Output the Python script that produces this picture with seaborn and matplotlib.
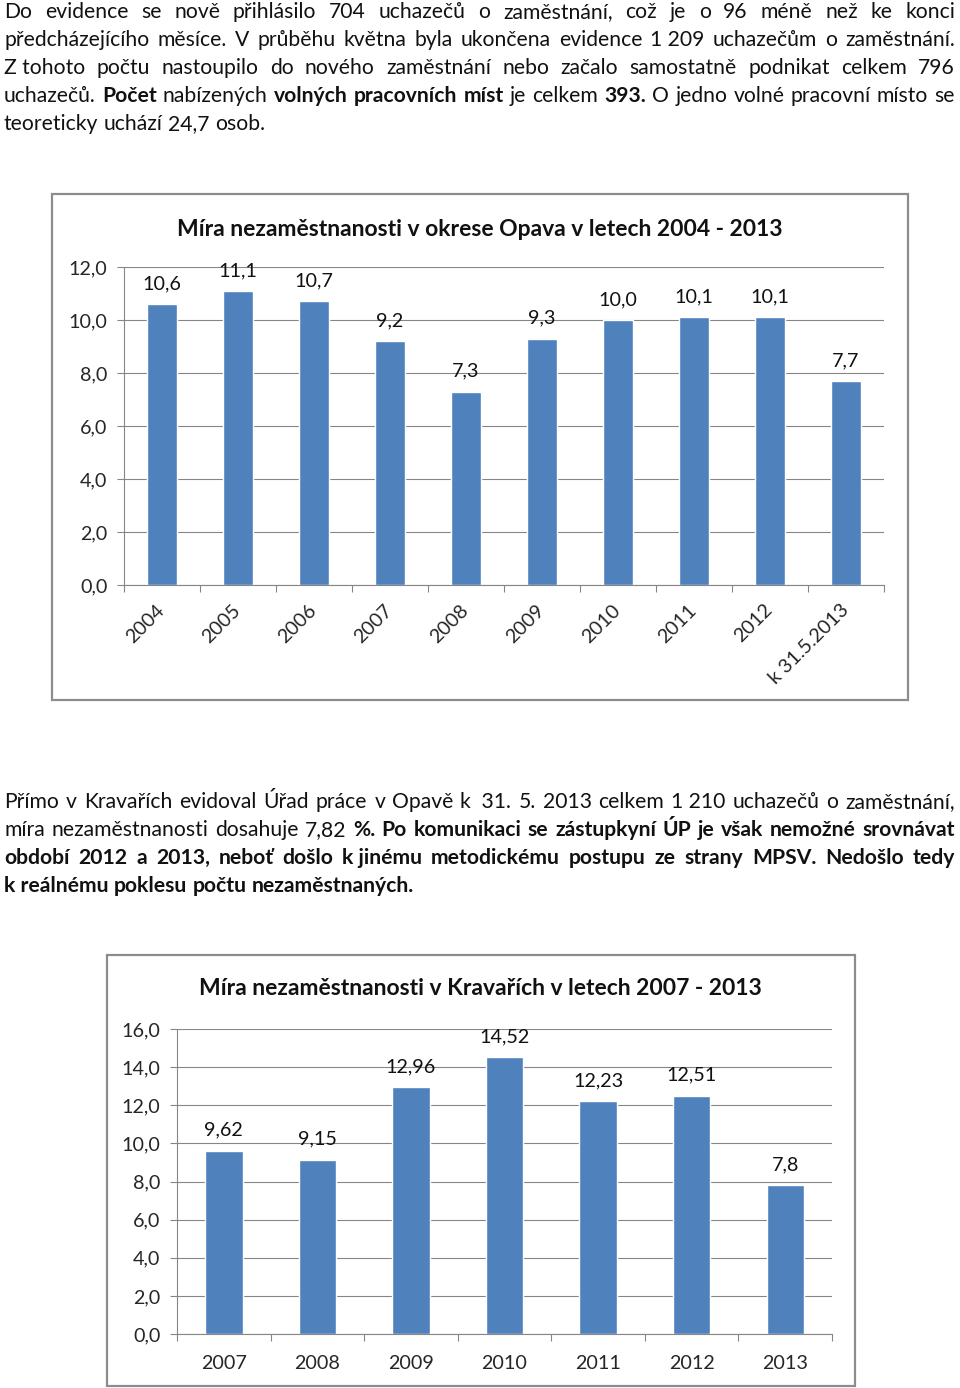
import matplotlib
matplotlib.use('Agg')
import matplotlib.pyplot as plt
import seaborn as sns
from matplotlib.patches import Rectangle
from matplotlib.ticker import FuncFormatter, FixedLocator

sns.set_style('white')
plt.rcParams['font.family'] = ['Lato', 'DejaVu Sans']
plt.rcParams['text.color'] = '#111111'

NB = '\u00a0'

# --- data ---
okres_roky = ['2004', '2005', '2006', '2007', '2008', '2009', '2010', '2011', '2012', 'k 31.5.2013']
okres_mira = [10.6, 11.1, 10.7, 9.2, 7.3, 9.3, 10.0, 10.1, 10.1, 7.7]
okres_titulek = 'Míra nezaměstnanosti v okrese Opava v letech 2004 - 2013'

krav_roky = ['2007', '2008', '2009', '2010', '2011', '2012', '2013']
krav_mira = [9.62, 9.15, 12.96, 14.52, 12.23, 12.51, 7.8]
krav_titulek = 'Míra nezaměstnanosti v Kravařích v letech 2007 - 2013'

# text, *slovo* = tucne
odstavec1 = [
    'Do evidence se nově přihlásilo 704 uchazečů o zaměstnání, což je o 96 méně než ke konci',
    'předcházejícího měsíce. V průběhu května byla ukončena evidence 1' + NB + '209 uchazečům o zaměstnání.',
    'Z' + NB + 'tohoto počtu nastoupilo do nového zaměstnání nebo začalo samostatně podnikat celkem 796',
    'uchazečů. *Počet* nabízených *volných* *pracovních* *míst* je celkem *393.* O jedno volné pracovní místo se',
    'teoreticky uchází 24,7 osob.',
]
odstavec2 = [
    'Přímo v Kravařích evidoval Úřad práce v Opavě k' + NB + NB + '31. 5. 2013 celkem 1' + NB + '210 uchazečů o zaměstnání,',
    'míra nezaměstnanosti dosahuje 7,82 *%.* *Po* *komunikaci* *se* *zástupkyní* *ÚP* *je* *však* *nemožné* *srovnávat*',
    '*období* *2012* *a* *2013,* *neboť* *došlo* *k' + NB + 'jinému* *metodickému* *postupu* *ze* *strany* *MPSV.* *Nedošlo* *tedy*',
    '*k' + NB + 'reálnému* *poklesu* *počtu* *nezaměstnaných.*',
]

W, H = 960, 1388
fig = plt.figure(figsize=(W / 100, H / 100), dpi=100)
bg = fig.add_axes([0, 0, 1, 1])
bg.set_xlim(0, W)
bg.set_ylim(H, 0)
bg.axis('off')
renderer = fig.canvas.get_renderer()

TEXT_SIZE = 15.2
CHART_SIZE = 14.2


def sirka(s, fw):
    t = bg.text(0, 0, s, fontsize=TEXT_SIZE, fontweight=fw)
    w = t.get_window_extent(renderer).width
    t.remove()
    return w


def radek(y, line, justify, x0=4, x1=955):
    words = []
    for w in line.split(' '):
        bold = w.startswith('*')
        words.append((w.strip('*'), 'bold' if bold else 'normal'))
    texty = [bg.text(0, y, w, fontsize=TEXT_SIZE, fontweight=fw, va='baseline', ha='left')
             for w, fw in words]
    sirky = [t.get_window_extent(renderer).width for t in texty]
    if justify and len(words) > 1:
        mezera = (x1 - x0 - sum(sirky)) / (len(words) - 1)
    else:
        mezera = sirka('a a', 'normal') - sirka('aa', 'normal')
    x = x0
    for t, s in zip(texty, sirky):
        t.set_x(x)
        x += s + mezera


for i, line in enumerate(odstavec1):
    radek(18 + 28 * i, line, i < len(odstavec1) - 1)
for i, line in enumerate(odstavec2):
    radek(808 + 28 * i, line, i < len(odstavec2) - 1)

GRAY = '#868686'
BLUE = '#4F81BD'


def fmt(v, _):
    return f'{v:.1f}'.replace('.', ',')


def graf(rect_px, box_px, titulek, title_y, roky, mira, ymax, labels, rotate):
    l, t, r, b = rect_px
    ax = fig.add_axes([l / W, 1 - b / H, (r - l) / W, (b - t) / H])
    sns.barplot(x=roky, y=mira, color=BLUE, saturation=1, width=0.4, ax=ax)
    ax.set_xlim(-0.5, len(roky) - 0.5)
    ax.set_ylim(0, ymax)
    ax.set_xlabel('')
    ax.set_ylabel('')
    ax.yaxis.set_major_locator(FixedLocator(list(range(0, ymax + 1, 2))))
    ax.yaxis.set_major_formatter(FuncFormatter(fmt))
    ax.yaxis.grid(True, color=GRAY, lw=0.8)
    ax.set_axisbelow(True)
    for s in ['top', 'right']:
        ax.spines[s].set_visible(False)
    for s in ['left', 'bottom']:
        ax.spines[s].set_color(GRAY)
        ax.spines[s].set_linewidth(0.8)
    ax.tick_params(axis='y', left=True, length=5, width=0.8, color=GRAY, pad=7, labelsize=CHART_SIZE)
    ax.xaxis.set_minor_locator(FixedLocator([i - 0.5 for i in range(len(roky) + 1)]))
    ax.tick_params(axis='x', which='minor', bottom=True, length=5, width=0.8, color=GRAY)
    ax.tick_params(axis='x', which='major', length=0, labelsize=CHART_SIZE, pad=16 if rotate else 15)
    if rotate:
        plt.setp(ax.get_xticklabels(), rotation=45, ha='right', va='center', rotation_mode='anchor')
    ax.bar_label(ax.containers[0], labels=labels, padding=8.5, fontsize=CHART_SIZE)
    bx0, by0, bx1, by1 = box_px
    bg.add_patch(Rectangle((bx0, by0), bx1 - bx0, by1 - by0, fill=False, edgecolor='#8c8c8c', lw=1.6))
    bg.text(480, title_y, titulek, ha='center', va='baseline', fontsize=16.5, fontweight='bold')
    return ax


graf((124, 267, 884, 585), (52, 194, 908, 700), okres_titulek, 236, okres_roky, okres_mira, 12,
     [f'{v:.1f}'.replace('.', ',') for v in okres_mira], True)
graf((177, 1029, 832, 1334), (107, 955, 855, 1386), krav_titulek, 995, krav_roky, krav_mira, 16,
     [str(v).replace('.', ',') for v in krav_mira], False)

fig.savefig('out.png', dpi=100)
